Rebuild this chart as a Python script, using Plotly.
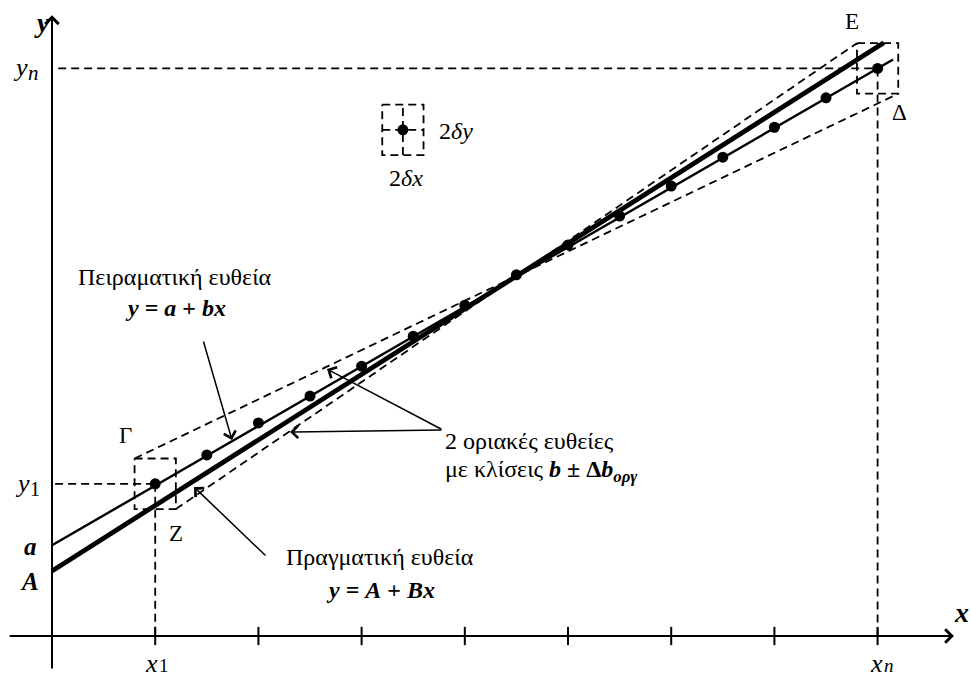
import plotly.graph_objects as go

# ---------------- data (diagram units) ----------------
x_points = [2, 3, 4, 5, 6, 7, 8, 9, 10, 11, 12, 13, 14, 15, 16]
y_points = [2.95, 3.51, 4.13, 4.65, 5.23, 5.81, 6.41, 7.00, 7.58, 8.14, 8.72, 9.28, 9.86, 10.43, 11.00]
tick_x = [2, 4, 6, 8, 10, 12, 14, 16]
a_exp, b_exp = 1.76, 0.5775       # experimental line y = a + b x
A_true, B_true = 1.26, 0.635      # true line y = A + B x
exp_end, true_end = 16.30, 16.12
dx, dy = 0.40, 0.49               # half-widths of error boxes
demo_point = (6.80, 9.81)         # example point with error box

X_RANGE = [-1.008, 17.81]
Y_RANGE = [-0.814, 12.326]
W, H = 971, 678
FONT = "Liberation Serif, Times New Roman, serif"
DASH = "8px,5px"

fig = go.Figure()

def dline(xs, ys, width=1.8, dash=DASH, color="black"):
    fig.add_trace(go.Scatter(x=xs, y=ys, mode="lines",
                             line=dict(color=color, width=width, dash=dash),
                             hoverinfo="skip"))

x1, y1 = x_points[0], y_points[0]
xn, yn = x_points[-1], y_points[-1]

# projections
dline([0.12, xn], [yn, yn])
dline([0.06, x1], [y1, y1])
dline([x1, x1], [y1, 0])
dline([xn, xn], [yn, 0])

# error boxes around first and last points
for (cx, cy) in [(x1, y1), (xn, yn)]:
    dline([cx - dx, cx + dx, cx + dx, cx - dx, cx - dx],
          [cy + dy, cy + dy, cy - dy, cy - dy, cy + dy])

# demo error box
px, py = demo_point
dline([px - dx, px + dx, px + dx, px - dx, px - dx],
      [py + dy, py + dy, py - dy, py - dy, py + dy])
dline([px, px], [py - dy, py + dy])
dline([px - dx, px + dx], [py, py])

# limiting lines
dline([x1 + dx, xn - dx], [y1 - dy, yn + dy])
dline([x1 - dx, xn + dx], [y1 + dy, yn - dy])

# experimental line
dline([0, exp_end], [a_exp, a_exp + b_exp * exp_end], width=2.4, dash="solid")
# true line
dline([0, true_end], [A_true, A_true + B_true * true_end], width=4.8, dash="solid")

# points
fig.add_trace(go.Scatter(x=x_points, y=y_points, mode="markers",
                         marker=dict(color="black", size=11), hoverinfo="skip"))
fig.add_trace(go.Scatter(x=[px], y=[py], mode="markers",
                         marker=dict(color="black", size=11), hoverinfo="skip"))

# ticks on x axis
fig.add_trace(go.Scatter(x=tick_x, y=[0] * len(tick_x), mode="markers",
                         marker=dict(symbol="line-ns-open", size=13, color="black",
                                     line=dict(color="black", width=2)),
                         hoverinfo="skip"))

# axes with arrows
def arrow(x_tip, y_tip, x_tail, y_tail, width=1.6, head=4, size=1.4):
    fig.add_annotation(x=x_tip, y=y_tip, ax=x_tail, ay=y_tail,
                       xref="x", yref="y", axref="x", ayref="y",
                       text="", showarrow=True, arrowhead=head,
                       arrowwidth=width, arrowsize=size, arrowcolor="black")

arrow(17.48, 0, -0.85, 0, width=2, size=1.3)
arrow(0, 12.03, 0, -0.66, width=2, size=1.3)

# pointer arrows (pixel positions converted to data units)
def d(pxx, pyy):
    return ((pxx - 52) / 51.6, (636 - pyy) / 51.6)

for tip, tail in [((232, 440), (203, 340)),
                  ((327, 369), (443, 430)),
                  ((290, 432), (443, 430)),
                  ((194, 487), (267, 557))]:
    tx, ty = d(*tip)
    sx, sy = d(*tail)
    arrow(tx, ty, sx, sy, width=1.5, size=1.6)

# ---------------- labels ----------------
def label(text, pxx, pyy, size=24, xanchor="center", yanchor="middle"):
    fig.add_annotation(x=pxx / W, y=1 - pyy / H, xref="paper", yref="paper",
                       text=text, showarrow=False, xanchor=xanchor, yanchor=yanchor,
                       font=dict(family=FONT, size=size, color="black"))

label("<b><i>y</i></b>", 42, 22, size=28)
label("<b><i>x</i></b>", 961, 612, size=28)
# axis value labels: main letter + subscript
label("<i>y</i>", 20, 67, size=26)
label("<i>n</i>", 33, 73, size=21)
label("<i>y</i>", 22, 483, size=26)
label("1", 35, 489, size=20)
label("<i>x</i>", 151, 663, size=26)
label("1", 164, 678, size=19, yanchor="bottom")
label("<i>x</i>", 876, 663, size=26)
label("<i>n</i>", 889, 678, size=19, yanchor="bottom")
label("<b><i>a</i></b>", 30, 546, size=25)
label("<b><i>A</i></b>", 29, 581, size=25)
label("Ε", 852, 21, size=23)
label("Δ", 899, 113, size=23)
label("Γ", 125, 435, size=23)
label("Ζ", 176, 533, size=23)
label("2<i>δy</i>", 437, 131, size=24, xanchor="left")
label("2<i>δx</i>", 406, 178, size=24)
label("Πειραματική ευθεία", 175, 277, size=24)
label("<b><i>y</i> = <i>a</i> + <i>bx</i></b>", 175, 308, size=24)
label("2 οριακές ευθείες", 443, 441, size=24, xanchor="left")
label("με κλίσεις <b><i>b</i> ± Δ<i>b</i><sub><i>οργ</i></sub></b>", 443, 471, size=24, xanchor="left")
label("Πραγματική ευθεία", 380, 557, size=24)
label("<b><i>y</i> = <i>A</i> + <i>Bx</i></b>", 380, 590, size=24)

fig.update_layout(
    width=W, height=H, margin=dict(l=0, r=0, t=0, b=0),
    plot_bgcolor="white", paper_bgcolor="white", showlegend=False,
    font=dict(family=FONT, color="black"),
    xaxis=dict(range=X_RANGE, visible=False, fixedrange=True),
    yaxis=dict(range=Y_RANGE, visible=False, fixedrange=True),
)

fig.write_html("out.html", config={"displayModeBar": False},
               post_script="document.body.style.margin='0px';document.body.style.padding='0px';")
